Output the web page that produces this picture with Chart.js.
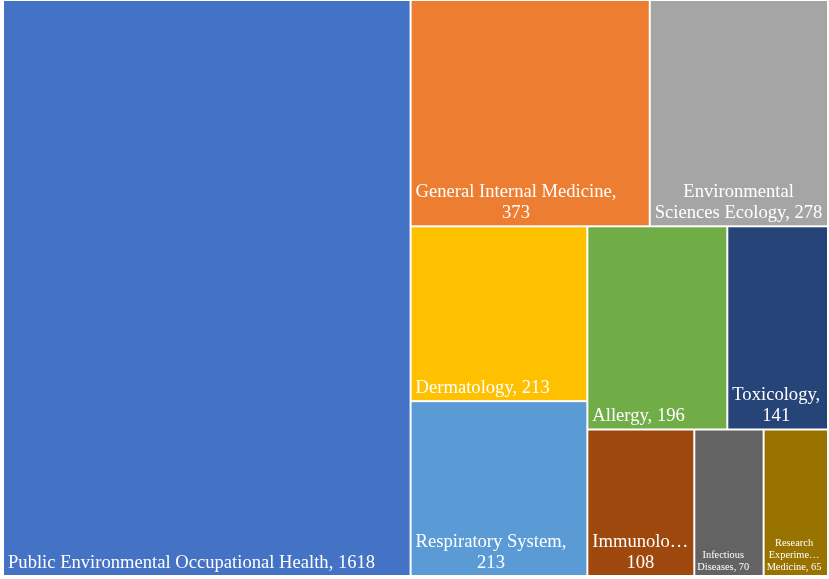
<!DOCTYPE html>
<html lang="en">
<head>
    <meta charset="UTF-8">
    <title>Treemap</title>
    <style>
        html, body { margin: 0; padding: 0; background: #fff; }
        #wrap { width: 829px; height: 579px; }
    </style>
</head>
<body>
    <div id="wrap">
        <canvas id="myChart"></canvas>
    </div>

    <script src="https://cdn.jsdelivr.net/npm/chart.js"></script>

    <script>
        // Categories and counts
        const categories = [
            'Public Environmental Occupational Health',
            'General Internal Medicine',
            'Environmental Sciences Ecology',
            'Dermatology',
            'Respiratory System',
            'Allergy',
            'Toxicology',
            'Immunology',
            'Infectious Diseases',
            'Research Experimental Medicine'
        ];
        const counts = [1618, 373, 278, 213, 213, 196, 141, 108, 70, 65];
        const colors = [
            '#4472C4', '#ED7D31', '#A5A5A5', '#FFC000', '#5B9BD5',
            '#70AD47', '#264478', '#9E480E', '#636363', '#997300'
        ];

        const FONT = '"Liberation Serif", "Times New Roman", serif';

        // worst aspect ratio of a strip of values laid along side L
        function worst(vals, L, k) {
            const s = vals.reduce((a, b) => a + b, 0);
            const t = s * k / L;
            let w = 0;
            vals.forEach(v => {
                const len = v * k / t;
                w = Math.max(w, t / len, len / t);
            });
            return w;
        }

        // squarified layout (the last few items go into one slice, as Excel does)
        function squarify(values, W, H) {
            const rects = [];
            let x = 0, y = 0, w = W, h = H;
            let i = 0;
            while (i < values.length) {
                const rest = values.slice(i);
                const R = rest.reduce((a, b) => a + b, 0);
                const k = w * h / R;
                let row;
                let horizontal; // strip spans the width
                if (rest.length <= 3) {
                    row = rest;
                    horizontal = w >= h;
                } else {
                    horizontal = w < h;
                    const L = Math.min(w, h);
                    row = [rest[0]];
                    while (row.length < rest.length &&
                           worst(row.concat(rest[row.length]), L, k) <= worst(row, L, k)) {
                        row.push(rest[row.length]);
                    }
                }
                const s = row.reduce((a, b) => a + b, 0);
                if (horizontal) {
                    const t = s * k / w;
                    let cx = x;
                    row.forEach(v => {
                        const len = v * k / t;
                        rects.push({ x: cx, y: y, w: len, h: t });
                        cx += len;
                    });
                    y += t; h -= t;
                } else {
                    const t = s * k / h;
                    let cy = y;
                    row.forEach(v => {
                        const len = v * k / t;
                        rects.push({ x: x, y: cy, w: t, h: len });
                        cy += len;
                    });
                    x += t; w -= t;
                }
                i += row.length;
            }
            return rects;
        }

        // word wrap, cutting words that are too long with an ellipsis
        function wrapLabel(ctx, text, maxW) {
            const words = text.split(' ').map(wd => {
                if (ctx.measureText(wd).width <= maxW) return wd;
                let cut = wd;
                while (cut.length > 1 && ctx.measureText(cut + '\u2026').width > maxW) {
                    cut = cut.slice(0, -1);
                }
                return cut + '\u2026';
            });
            const lines = [];
            let line = '';
            words.forEach(wd => {
                const test = line ? line + ' ' + wd : wd;
                if (line && ctx.measureText(test).width > maxW) {
                    lines.push(line);
                    line = wd;
                } else {
                    line = test;
                }
            });
            if (line) lines.push(line);
            return lines;
        }

        const treemapPlugin = {
            id: 'treemap',
            afterDatasetsDraw(chart) {
                const { ctx, chartArea, scales } = chart;
                const W = chartArea.width, H = chartArea.height;
                const rects = squarify(counts, W, H);

                rects.forEach((r, i) => {
                    // layout space -> data space (0..100), then through the scales
                    const x0 = scales.x.getPixelForValue(r.x / W * 100);
                    const x1 = scales.x.getPixelForValue((r.x + r.w) / W * 100);
                    const y0 = scales.y.getPixelForValue(r.y / H * 100);
                    const y1 = scales.y.getPixelForValue((r.y + r.h) / H * 100);

                    ctx.save();
                    ctx.fillStyle = colors[i];
                    ctx.fillRect(x0 + 1, y0 + 1, x1 - x0 - 2, y1 - y0 - 2);

                    const cw = x1 - x0;
                    const small = cw < 80;
                    const size = small ? 10.4 : 18.6;
                    ctx.font = size + 'px ' + FONT;
                    ctx.fillStyle = '#fff';
                    const pad = small ? 3 : 5;
                    const lines = wrapLabel(ctx, categories[i] + ', ' + counts[i], cw - (small ? 9 : 8));
                    const blockW = Math.max(...lines.map(l => ctx.measureText(l).width));
                    const lh = small ? 12 : size * 1.13;
                    const cx = x0 + pad + blockW / 2;
                    let by = y1 - (small ? 6 : 8);
                    ctx.textAlign = 'center';
                    ctx.textBaseline = 'alphabetic';
                    for (let j = lines.length - 1; j >= 0; j--) {
                        ctx.fillText(lines[j], cx, by);
                        by -= lh;
                    }
                    ctx.restore();
                });
            }
        };

        const ctx = document.getElementById('myChart');

        new Chart(ctx, {
            type: 'scatter',
            data: {
                labels: categories,
                datasets: [{ label: 'Records', data: [] }]
            },
            options: {
                responsive: true,
                maintainAspectRatio: false,
                animation: false,
                layout: { padding: { left: 3, right: 1, top: 0, bottom: 3 } },
                plugins: {
                    legend: { display: false },
                    tooltip: { enabled: false }
                },
                scales: {
                    x: { type: 'linear', min: 0, max: 100, display: false },
                    y: { type: 'linear', min: 0, max: 100, reverse: true, display: false }
                }
            },
            plugins: [treemapPlugin]
        });
    </script>
</body>
</html>
